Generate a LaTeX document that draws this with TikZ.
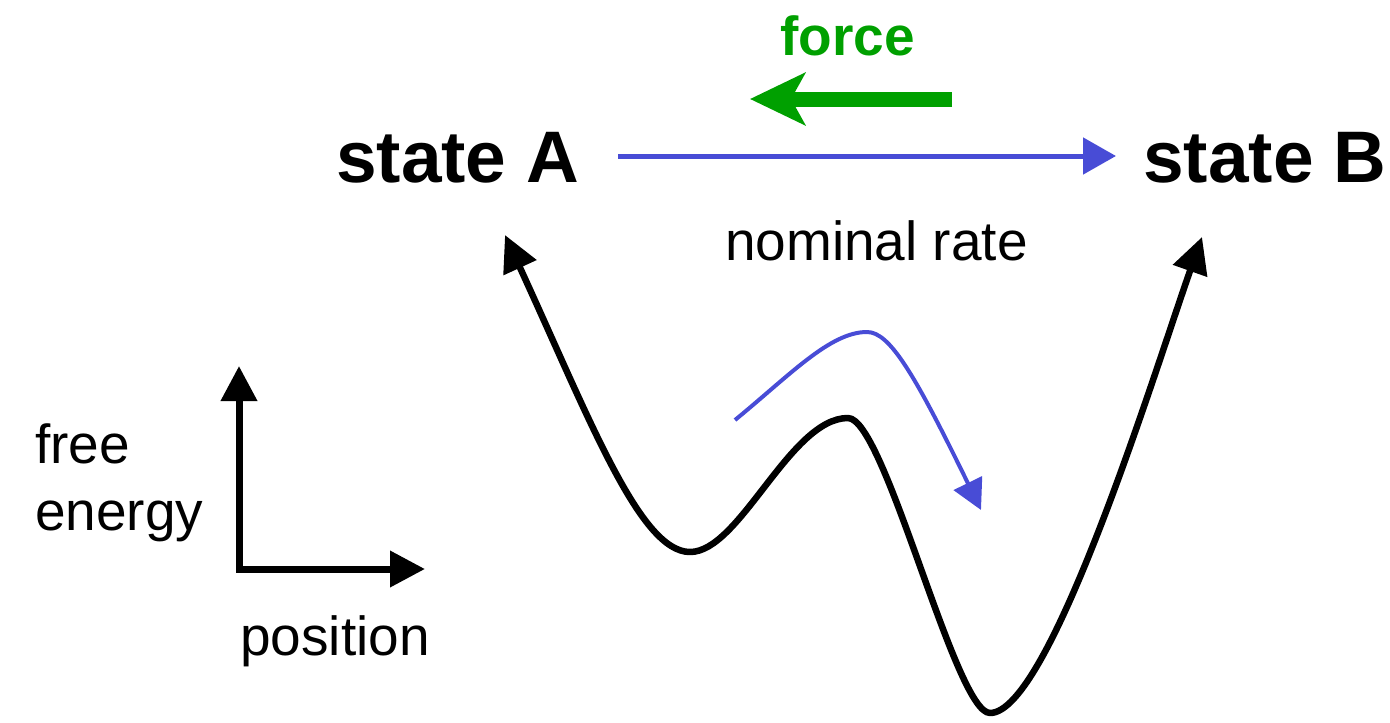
\documentclass[tikz,border=0pt]{standalone}
\usepackage{fontspec}
\setmainfont{Liberation Sans}
\usetikzlibrary{arrows.meta}
\definecolor{fgreen}{RGB}{0,160,0}
\definecolor{rblue}{RGB}{72,76,214}
\begin{document}
\begin{tikzpicture}[x=1pt,y=-1pt,
  lbl/.style={anchor=base west, inner sep=0pt, font=\fontsize{55}{66}\selectfont},
  statelbl/.style={anchor=base west, inner sep=0pt, font=\fontsize{73}{80}\selectfont\bfseries},
  forcelbl/.style={anchor=base west, inner sep=0pt, text=fgreen, font=\fontsize{55}{66}\selectfont\bfseries},
  energy/.style={line width=6.5pt, line join=round, {Triangle[length=36pt,width=35pt]}-{Triangle[length=36pt,width=35pt]}},
  axis/.style={line width=7pt, line join=miter, {Triangle[length=35pt,width=35pt]}-{Triangle[length=35pt,width=35pt]}},
  rate/.style={rblue, line width=5pt, -{Triangle[length=33pt,width=36pt]}},
  hop/.style={rblue, line width=4pt, -{Triangle[length=30pt,width=31pt]}},
  forcearrow/.style={fgreen, line width=15pt, -{Stealth[length=55pt,width=52pt,inset=14pt]}}
]
\useasboundingbox (0,0) rectangle (1390,723);

% labels
\node[statelbl] (A) at (336,182) {state A};
\node[statelbl] (B) at (1143,182) {state B};
\node[forcelbl] (F) at (780,55) {force};
\node[lbl] (N) at (725,260) {nominal rate};
\node[lbl] (FE1) at (35,463) {free};
\node[lbl] (FE2) at (35,530) {energy};
\node[lbl] (P) at (240,655) {position};

% force arrow
\coordinate (g1) at (952,99);
\coordinate (g2) at (750,99);
\draw[forcearrow] (g1) -- (g2);

% nominal rate arrow
\coordinate (r1) at (618,156);
\coordinate (r2) at (1116,156);
\draw[rate] (r1) -- (r2);

% axes
\coordinate (ytip) at (239,366);
\coordinate (xtip) at (425,569);
\draw[axis] (ytip) |- (xtip);

% energy landscape
\coordinate (cA) at (505,235);
\coordinate (m1) at (690,552);
\coordinate (top) at (848,418);
\coordinate (m2) at (990,713);
\coordinate (cB) at (1202,237);
\draw[energy] (cA) .. controls (590,420) and (640,552) .. (m1)
  .. controls (740,552) and (790,418) .. (top)
  .. controls (885,418) and (955,713) .. (m2)
  .. controls (1050,713) and (1155,370) .. (cB);

% hop arrow
\coordinate (h1) at (735,420);
\coordinate (hp) at (867,332);
\coordinate (h2) at (981,510);
\draw[hop] (h1) .. controls (790,375) and (830,332) .. (hp)
  .. controls (890,332) and (915,375) .. (h2);
\end{tikzpicture}
\end{document}
